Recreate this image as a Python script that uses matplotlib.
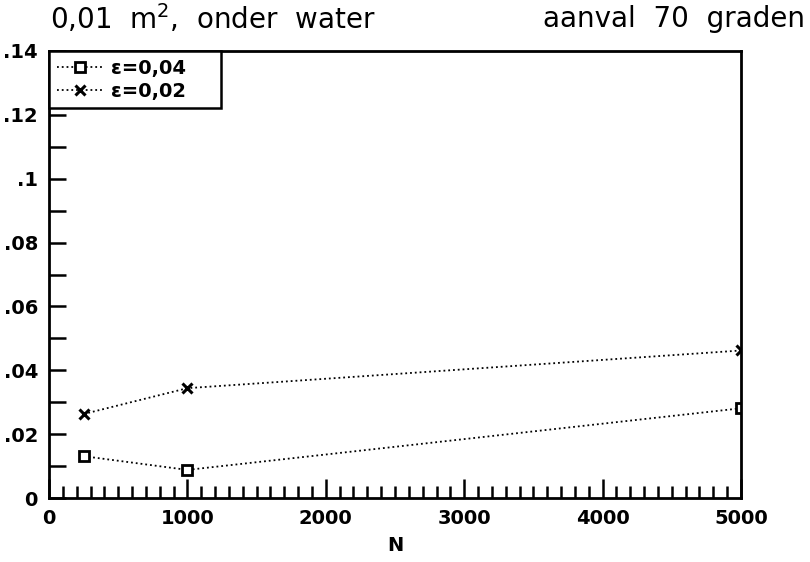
import numpy as np
import matplotlib
matplotlib.use("Agg")
import matplotlib.pyplot as plt
from matplotlib.ticker import MultipleLocator, FuncFormatter

# data
n_vals = [250, 1000, 5000]
eps_004 = [0.0131, 0.0088, 0.0281]
eps_002 = [0.0263, 0.0344, 0.0462]
labels = ["ε=0,04", "ε=0,02"]

tick_font = ["Liberation Sans Narrow", "DejaVu Sans Condensed", "DejaVu Sans"]


def yfmt(v, pos):
    if abs(v) < 1e-9:
        return "0"
    s = "{:.2f}".format(v).rstrip("0")
    return s[1:] if s.startswith("0") else s


fig = plt.figure(figsize=(8.1, 5.62), dpi=100)
ax = fig.add_axes([49 / 810, 1 - 498 / 562, (741 - 49) / 810, (498 - 51) / 562])

ax.plot(n_vals, eps_004, ":", color="black", lw=1.3, marker="s", ms=7,
        mfc="white", mec="black", mew=2, label=labels[0])
ax.plot(n_vals, eps_002, ":", color="black", lw=1.3, marker="x", ms=7,
        mec="black", mew=2.2, label=labels[1])

ax.set_xlim(0, 5000)
ax.set_ylim(0, 0.14)
ax.xaxis.set_major_locator(MultipleLocator(1000))
ax.xaxis.set_minor_locator(MultipleLocator(100))
ax.yaxis.set_major_locator(MultipleLocator(0.02))
ax.yaxis.set_minor_locator(MultipleLocator(0.01))
ax.yaxis.set_major_formatter(FuncFormatter(yfmt))
ax.tick_params(which="both", direction="in", width=1.8, top=False, right=False)
ax.tick_params(which="major", length=14, pad=8)
ax.tick_params(which="minor", length=9)
ax.tick_params(axis="y", which="both", length=12)
for sp in ax.spines.values():
    sp.set_linewidth(2)

for lab in ax.get_xticklabels() + ax.get_yticklabels():
    lab.set_family(tick_font)
    lab.set_fontweight("bold")
    lab.set_fontsize(14)

ax.set_xlabel("N", family=tick_font, fontsize=14, fontweight="bold", labelpad=6)

fig.text(50 / 810, 1 - 19 / 562, "0,01  m$^2$,  onder  water", fontsize=20,
         va="center", ha="left")
fig.text(805 / 810, 1 - 19 / 562, "aanval  70  graden", fontsize=20,
         va="center", ha="right")

leg = ax.legend(loc="upper left", bbox_to_anchor=(0, 1, 172 / 692, 0.0),
                mode="expand", borderaxespad=0, fancybox=False,
                framealpha=1, edgecolor="black", handlelength=2.4,
                handletextpad=0.4, borderpad=0.4, labelspacing=0.2,
                prop={"family": tick_font, "weight": "bold", "size": 14})
leg.get_frame().set_linewidth(1.8)

fig.savefig("out.png", dpi=100)
